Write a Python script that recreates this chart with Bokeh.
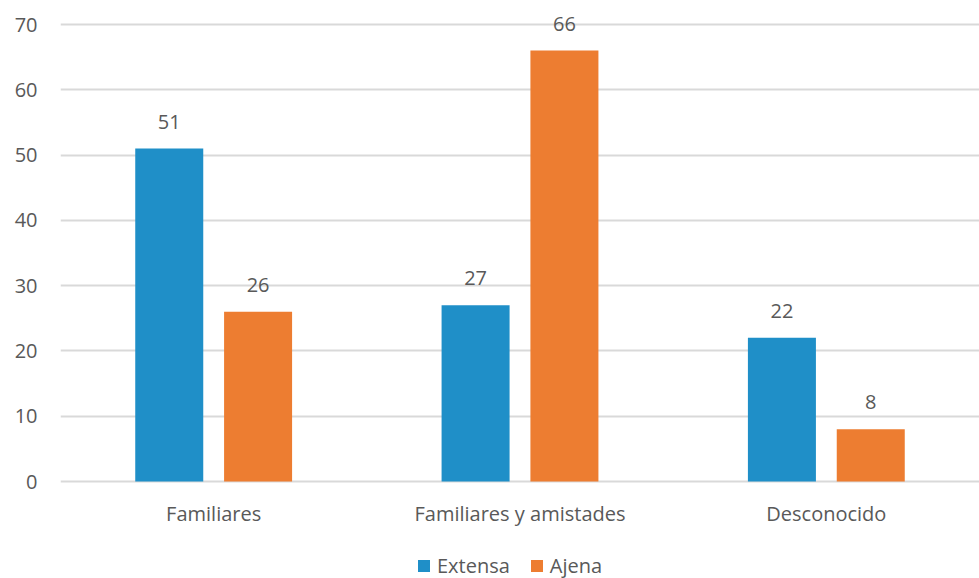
from bokeh.plotting import figure
from bokeh.models import ColumnDataSource, Legend, LegendItem, FactorRange, LabelSet, FixedTicker
from bokeh.transform import dodge
from bokeh.core.properties import value
from bokeh.embed import file_html
from bokeh.resources import INLINE

categories = ["Familiares", "Familiares y amistades", "Desconocido"]
extensa = [51, 27, 22]
ajena = [26, 66, 8]
series_names = ["Extensa", "Ajena"]
y_ticks = [0, 10, 20, 30, 40, 50, 60, 70]

BLUE = "#1F8FC8"
ORANGE = "#ED7D31"
TEXT = "#595959"
FONT = "Open Sans"

src = ColumnDataSource(dict(cat=categories, ext=extensa, aje=ajena,
                            zero=[0] * len(categories),
                            ext_lbl=[str(v) for v in extensa],
                            aje_lbl=[str(v) for v in ajena]))

# 0 sits 481px from the top, 70 at 24px; the frame spans the full 578px height
px_per_unit = (481 - 24) / 70.0
p = figure(x_range=FactorRange(*categories),
           y_range=(-(578 - 481) / px_per_unit, 70 + 24 / px_per_unit),
           frame_width=919, frame_height=578, output_backend="svg", toolbar_location=None,
           min_border_left=60, min_border_top=0, min_border_right=0, min_border_bottom=0)
p.outline_line_color = None

r1 = p.vbar(x=dodge("cat", -0.145, range=p.x_range), top="ext", width=0.222, source=src,
            fill_color=BLUE, line_color=None)
r2 = p.vbar(x=dodge("cat", 0.145, range=p.x_range), top="aje", width=0.222, source=src,
            fill_color=ORANGE, line_color=None)

for xoff, col in [(-0.145, "ext"), (0.145, "aje")]:
    lbl = LabelSet(x=dodge("cat", xoff, range=p.x_range), y=col, text=col + "_lbl", source=src,
                   text_align="center", text_baseline="bottom", y_offset=20,
                   text_font=value(FONT), text_font_size="20px", text_color=TEXT)
    p.add_layout(lbl)

# category labels under the baseline
cat_lbl = LabelSet(x="cat", y="zero", text="cat", source=src,
                   text_align="center", text_baseline="middle", y_offset=-32,
                   text_font=value(FONT), text_font_size="20px", text_color=TEXT)
p.add_layout(cat_lbl)
p.xaxis.visible = False

p.yaxis.ticker = FixedTicker(ticks=y_ticks)
p.yaxis.axis_line_color = None
p.yaxis.major_tick_line_color = None
p.yaxis.minor_tick_line_color = None
p.yaxis.major_tick_out = 0
p.yaxis.major_tick_in = 0
p.yaxis.major_label_text_font = FONT
p.yaxis.major_label_text_font_size = "20px"
p.yaxis.major_label_text_color = TEXT
p.yaxis.major_label_standoff = 23

p.xgrid.grid_line_color = None
p.ygrid.grid_line_color = "#D9D9D9"
p.ygrid.grid_line_width = 2

legend = Legend(items=[LegendItem(label=series_names[0], renderers=[r1]),
                       LegendItem(label=series_names[1], renderers=[r2])],
                orientation="horizontal", location=(356, -1),
                label_text_font=FONT, label_text_font_size="20px", label_text_color=TEXT,
                glyph_width=15, glyph_height=15, spacing=19, label_standoff=6,
                label_height=20,
                border_line_color=None, background_fill_alpha=0, padding=0, margin=0)
p.add_layout(legend)

open("out.html", "w").write(file_html(p, INLINE))
